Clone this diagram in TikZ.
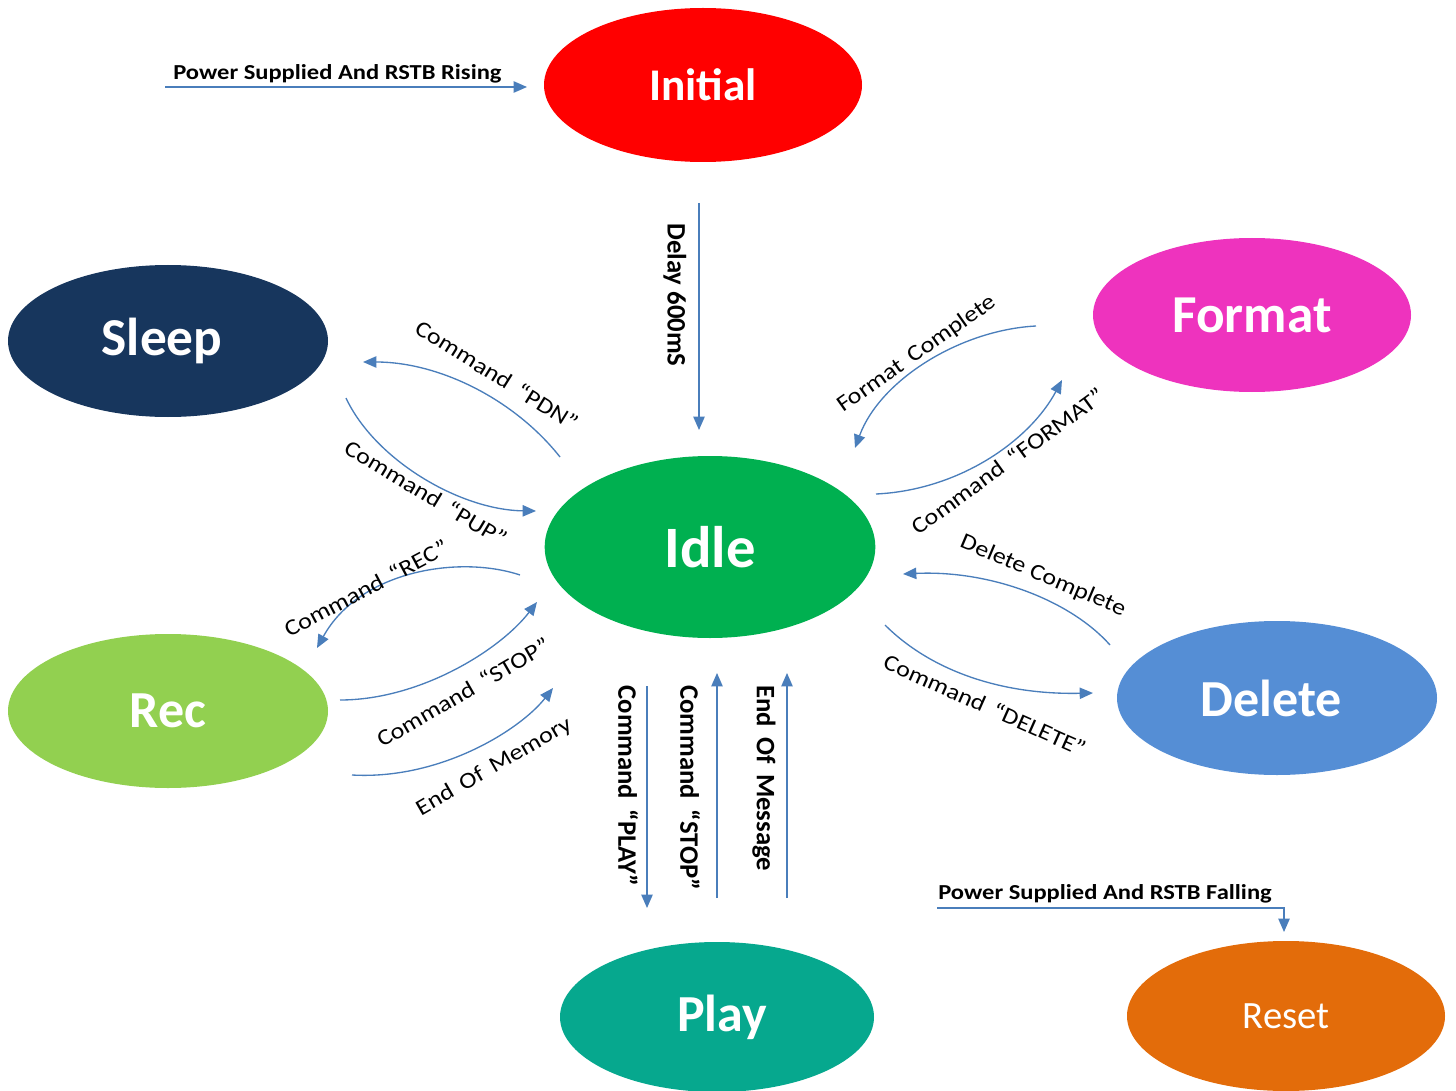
\documentclass[tikz,border=0pt]{standalone}
\usepackage{fontspec}
\setmainfont{Carlito}
\newfontfamily\lblfont[FakeStretch=1.15]{Carlito}
\usetikzlibrary{arrows.meta,shapes.geometric}

\definecolor{initred}{HTML}{FF0000}
\definecolor{sleepblue}{HTML}{17365D}
\definecolor{formatpink}{HTML}{EE33BE}
\definecolor{idlegreen}{HTML}{00B050}
\definecolor{recgreen}{HTML}{92D050}
\definecolor{deleteblue}{HTML}{558ED5}
\definecolor{playteal}{HTML}{06A88E}
\definecolor{resetorange}{HTML}{E36C0A}
\definecolor{arrowblue}{HTML}{4A7EBB}

\begin{document}
\begin{tikzpicture}[x=0.75pt,y=-0.75pt,
    state/.style={ellipse, inner sep=0pt, text=white},
    trans/.style={draw=arrowblue, line width=1pt, -{Triangle[length=10pt,width=8.5pt]}},
    lbl/.style={inner sep=0pt, font=\lblfont\fontsize{17}{17}\selectfont},
    vlbl/.style={inner sep=0pt, rotate=-90, font=\bfseries\fontsize{20}{20}\selectfont},
    hlbl/.style={inner sep=0pt, anchor=base west, font=\lblfont\bfseries\fontsize{16}{16}\selectfont}]
    \useasboundingbox (0,0) rectangle (1456,1091);
    % states
    \foreach \sname/\sx/\sy/\sw/\sh/\scol/\swt/\ssize/\sdx/\stext in {
        initial/703/85/238.5/115.5/initred/\bfseries/34/0/Initial,
        sleep/168/341/240/114/sleepblue/\bfseries/40/-9/Sleep,
        format/1252/315/238.5/115.5/formatpink/\bfseries/40/0/Format,
        idle/710/547/248/136.5/idlegreen/\bfseries/44/0/Idle,
        rec/168/711/240/115.5/recgreen/\bfseries/39/0/Rec,
        delete/1277/698/240/115.5/deleteblue/\bfseries/39/-9/Delete,
        play/717/1017/235.5/112.5/playteal/\bfseries/39/7.5/Play,
        reset/1286/1016/238.5/112.5/resetorange/\mdseries/29/0/Reset} {
        \node[state, fill=\scol, minimum width=\sw pt, minimum height=\sh pt,
            font=\swt\fontsize{\ssize}{\ssize}\selectfont] (\sname) at (\sx,\sy) {\kern\sdx pt\stext};
    }
    % free ends of the transitions
    \coordinate (on-s) at (165,87);    \coordinate (on-e) at (527,87);
    \coordinate (dly-s) at (699,203);  \coordinate (dly-e) at (699,430);
    \coordinate (pdn-s) at (560,457);  \coordinate (pdn-e) at (363,362);
    \coordinate (pup-s) at (346,398);  \coordinate (pup-e) at (536,511);
    \coordinate (rec-s) at (520,575);  \coordinate (rec-e) at (317,648);
    \coordinate (rst-s) at (340,700);  \coordinate (rst-e) at (537,602);
    \coordinate (eom-s) at (352,775);  \coordinate (eom-e) at (553,688);
    \coordinate (fmt-s) at (876,494);  \coordinate (fmt-e) at (1062,380);
    \coordinate (fdn-s) at (1036,326); \coordinate (fdn-e) at (855,448);
    \coordinate (ddn-s) at (1110,645); \coordinate (ddn-e) at (903,574);
    \coordinate (del-s) at (885,625);  \coordinate (del-e) at (1093,693);
    \coordinate (ply-s) at (647,686);  \coordinate (ply-e) at (647,908);
    \coordinate (pst-s) at (717,898);  \coordinate (pst-e) at (717,673);
    \coordinate (eog-s) at (787,898);  \coordinate (eog-e) at (787,673);
    \coordinate (off-s) at (937,908);  \coordinate (off-e) at (1284,932);

    \draw[trans] (on-s) -- (on-e);
    \draw[trans] (dly-s) -- (dly-e);
    \draw[trans] (pdn-s) .. controls (515,400) and (440,362) .. (pdn-e);
    \draw[trans] (pup-s) .. controls (375,460) and (460,510) .. (pup-e);
    \draw[trans] (rec-s) .. controls (460,555) and (360,570) .. (rec-e);
    \draw[trans] (rst-s) .. controls (420,700) and (500,650) .. (rst-e);
    \draw[trans] (eom-s) .. controls (440,780) and (520,730) .. (eom-e);
    \draw[trans] (fmt-s) .. controls (960,490) and (1030,440) .. (fmt-e);
    \draw[trans] (fdn-s) .. controls (960,330) and (880,380) .. (fdn-e);
    \draw[trans] (ddn-s) .. controls (1070,600) and (990,570) .. (ddn-e);
    \draw[trans] (del-s) .. controls (930,670) and (1000,695) .. (del-e);
    \draw[trans] (ply-s) -- (ply-e);
    \draw[trans] (pst-s) -- (pst-e);
    \draw[trans] (eog-s) -- (eog-e);
    \draw[trans] (off-s) -| (off-e);

    % labels
    \node[hlbl] (on-l) at (173,80) {Power Supplied And RSTB Rising};
    \node[hlbl] (off-l) at (938,899) {Power Supplied And RSTB Falling};
    \node[vlbl] (dly-l) at (675,295) {Delay 600mS};
    \node[vlbl] (ply-l) at (628,786) {Command \,“PLAY”};
    \node[vlbl] (pst-l) at (690,788) {Command \,“STOP”};
    \node[vlbl] (eog-l) at (764,778) {End \,Of \,Message};
    \node[lbl, rotate=-32] (pdn-l) at (497,375) {Command \,“PDN”};
    \node[lbl, rotate=-31] (pup-l) at (426,493) {Command \,“PUP”};
    \node[lbl, rotate=28] (rec-l) at (366,588) {Command \,“REC”};
    \node[lbl, rotate=30] (rst-l) at (463,692) {Command \,“STOP”};
    \node[lbl, rotate=30] (eom-l) at (494,767) {End \,Of \,Memory};
    \node[lbl, rotate=35] (fdn-l) at (917,354) {Format \,Complete};
    \node[lbl, rotate=36] (fmt-l) at (1008,461) {Command \,“FORMAT”};
    \node[lbl, rotate=-23] (ddn-l) at (1043,576) {Delete Complete};
    \node[lbl, rotate=-24] (del-l) at (985,705) {Command \,“DELETE”};
\end{tikzpicture}
\end{document}
